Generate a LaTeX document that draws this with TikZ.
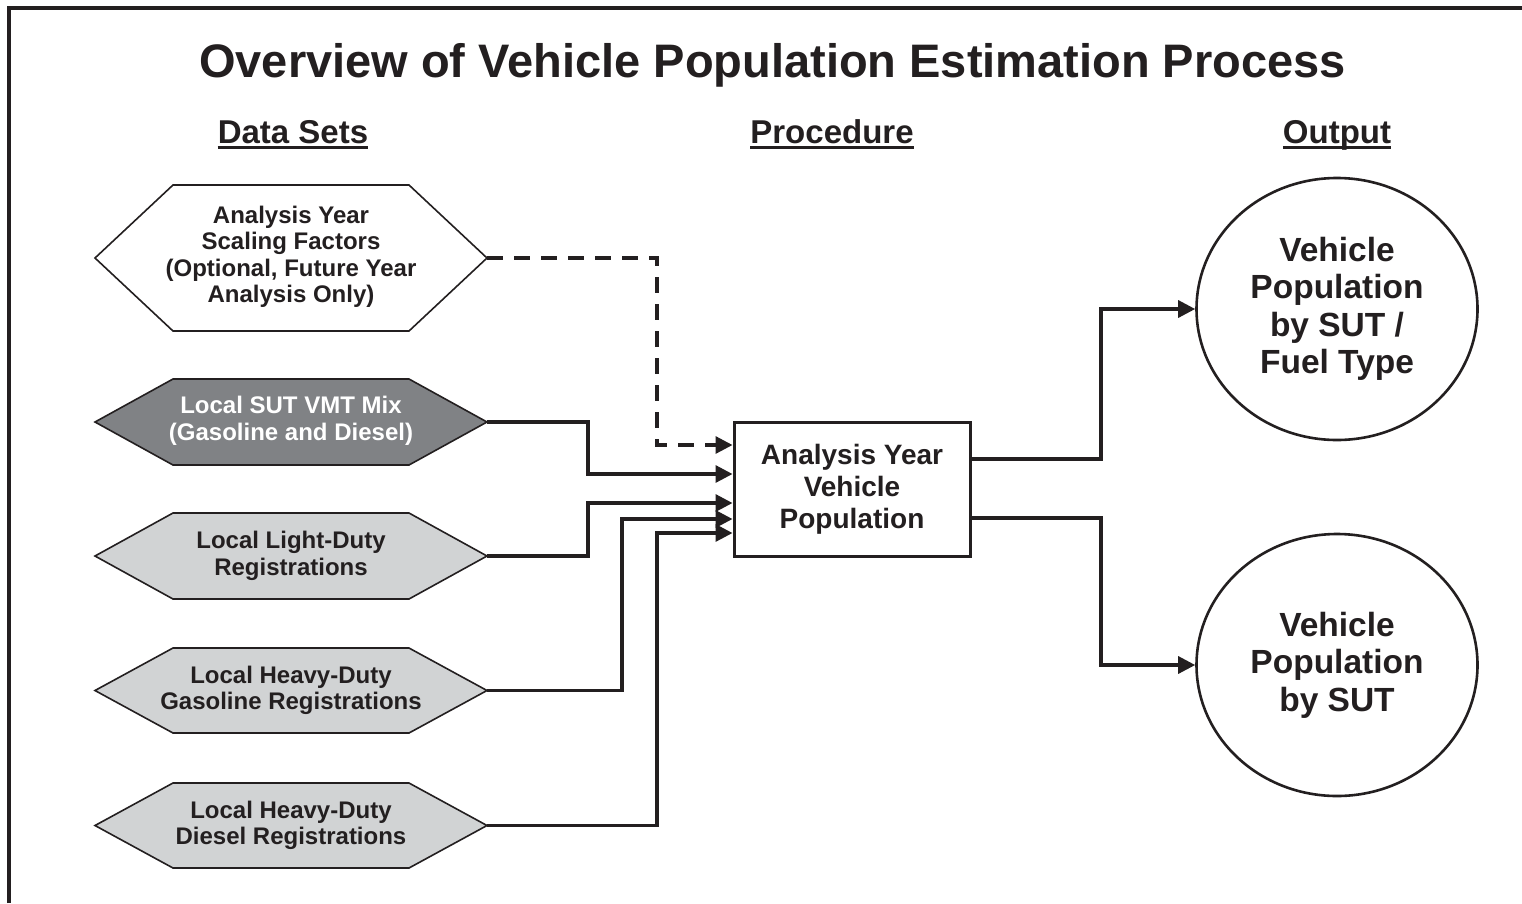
\documentclass[tikz,border=0pt]{standalone}
\usepackage{fontspec}
\setmainfont{Liberation Sans}
\usetikzlibrary{shapes.geometric,arrows.meta}
\definecolor{ink}{HTML}{231F20}
\definecolor{darkfill}{HTML}{808285}
\definecolor{lightfill}{HTML}{D1D3D4}
\begin{document}
\begin{tikzpicture}[x=1pt,y=-1pt,
  hexshape/.style={draw=ink,line width=1.6pt},
  hextext/.style={align=center,text=ink,inner sep=0pt,font=\fontsize{24}{26.5}\selectfont\bfseries},
  header/.style={anchor=base,inner sep=0pt,text=ink,font=\fontsize{33}{36}\selectfont\bfseries},
  conn/.style={draw=ink,line width=3.2pt,-{Triangle[length=17pt,width=17pt]}},
  dconn/.style={conn,dash pattern=on 16pt off 11pt},
  procbox/.style={draw=ink,line width=3pt,minimum width=236pt,minimum height=134pt,align=center,text=ink,font=\fontsize{28}{32}\selectfont\bfseries},
  outcirc/.style={ellipse,draw=ink,line width=2.6pt,minimum width=281pt,minimum height=262pt,inner sep=0pt,align=center,text=ink,font=\fontsize{33.5}{37.5}\selectfont\bfseries}
]
\useasboundingbox (0,0) rectangle (1522,903);
\fill[white] (0,0) rectangle (1522,903);
% frame
\draw[ink,line width=4pt] (8.5,903) -- (8.5,7.5) -- (1522,7.5);
% title
\node[anchor=base,inner sep=0pt,text=ink,font=\fontsize{47}{52}\selectfont\bfseries] (title) at (772.5,77) {Overview of Vehicle Population Estimation Process};
% headers
\node[header] (hdata) at (293,143) {Data Sets};
\node[header] (hproc) at (832,143) {Procedure};
\node[header] (hout) at (1337,143) {Output};
\foreach \h in {hdata,hproc,hout}
  \draw[ink,line width=2.2pt] ([yshift=-4.5pt]\h.base west) -- ([yshift=-4.5pt]\h.base east);
% hexagons
\foreach \yc/\hh/\fc/\nm in {258/73/white/h1e,422/43/darkfill/h2e,556/43/lightfill/h3e,690.5/42.5/lightfill/h4e,825.5/42.5/lightfill/h5e}{
  \draw[hexshape,fill=\fc] (95,\yc) -- (173,{\yc-\hh}) -- (409,{\yc-\hh}) -- (487,\yc) -- (409,{\yc+\hh}) -- (173,{\yc+\hh}) -- cycle;
  \coordinate (\nm) at (487,\yc);
}
\node[hextext] (hex1) at (291,257) {Analysis Year\\Scaling Factors\\(Optional, Future Year\\Analysis Only)};
\node[hextext,text=white] (hex2) at (291,421) {Local SUT VMT Mix\\(Gasoline and Diesel)};
\node[hextext] (hex3) at (291,556) {Local Light-Duty\\Registrations};
\node[hextext] (hex4) at (291,690.5) {Local Heavy-Duty\\Gasoline Registrations};
\node[hextext] (hex5) at (291,825.5) {Local Heavy-Duty\\Diesel Registrations};
% procedure box
\node[procbox] (box) at (852,489.5) {Analysis Year\\Vehicle\\Population};
% outputs
\node[outcirc] (c1) at (1337,309) {Vehicle\\Population\\by SUT /\\Fuel Type};
\node[outcirc] (c2) at (1337,665) {Vehicle\\Population\\by SUT};
% connectors
\draw[dconn] (h1e) -- (657,258) |- ([yshift=44.5pt]box.west);
\draw[conn] (h2e) -- (588,422) |- ([yshift=15.5pt]box.west);
\draw[conn] (h3e) -- (588,556) |- ([yshift=-13.5pt]box.west);
\draw[conn] (h4e) -- (622,690.5) |- ([yshift=-29.5pt]box.west);
\draw[conn] (h5e) -- (657,825.5) |- ([yshift=-43.5pt]box.west);
\draw[conn] ([yshift=30.5pt]box.east) -- (1101,459) |- (c1.west);
\draw[conn] ([yshift=-28.5pt]box.east) -- (1101,518) |- (c2.west);
\end{tikzpicture}
\end{document}
